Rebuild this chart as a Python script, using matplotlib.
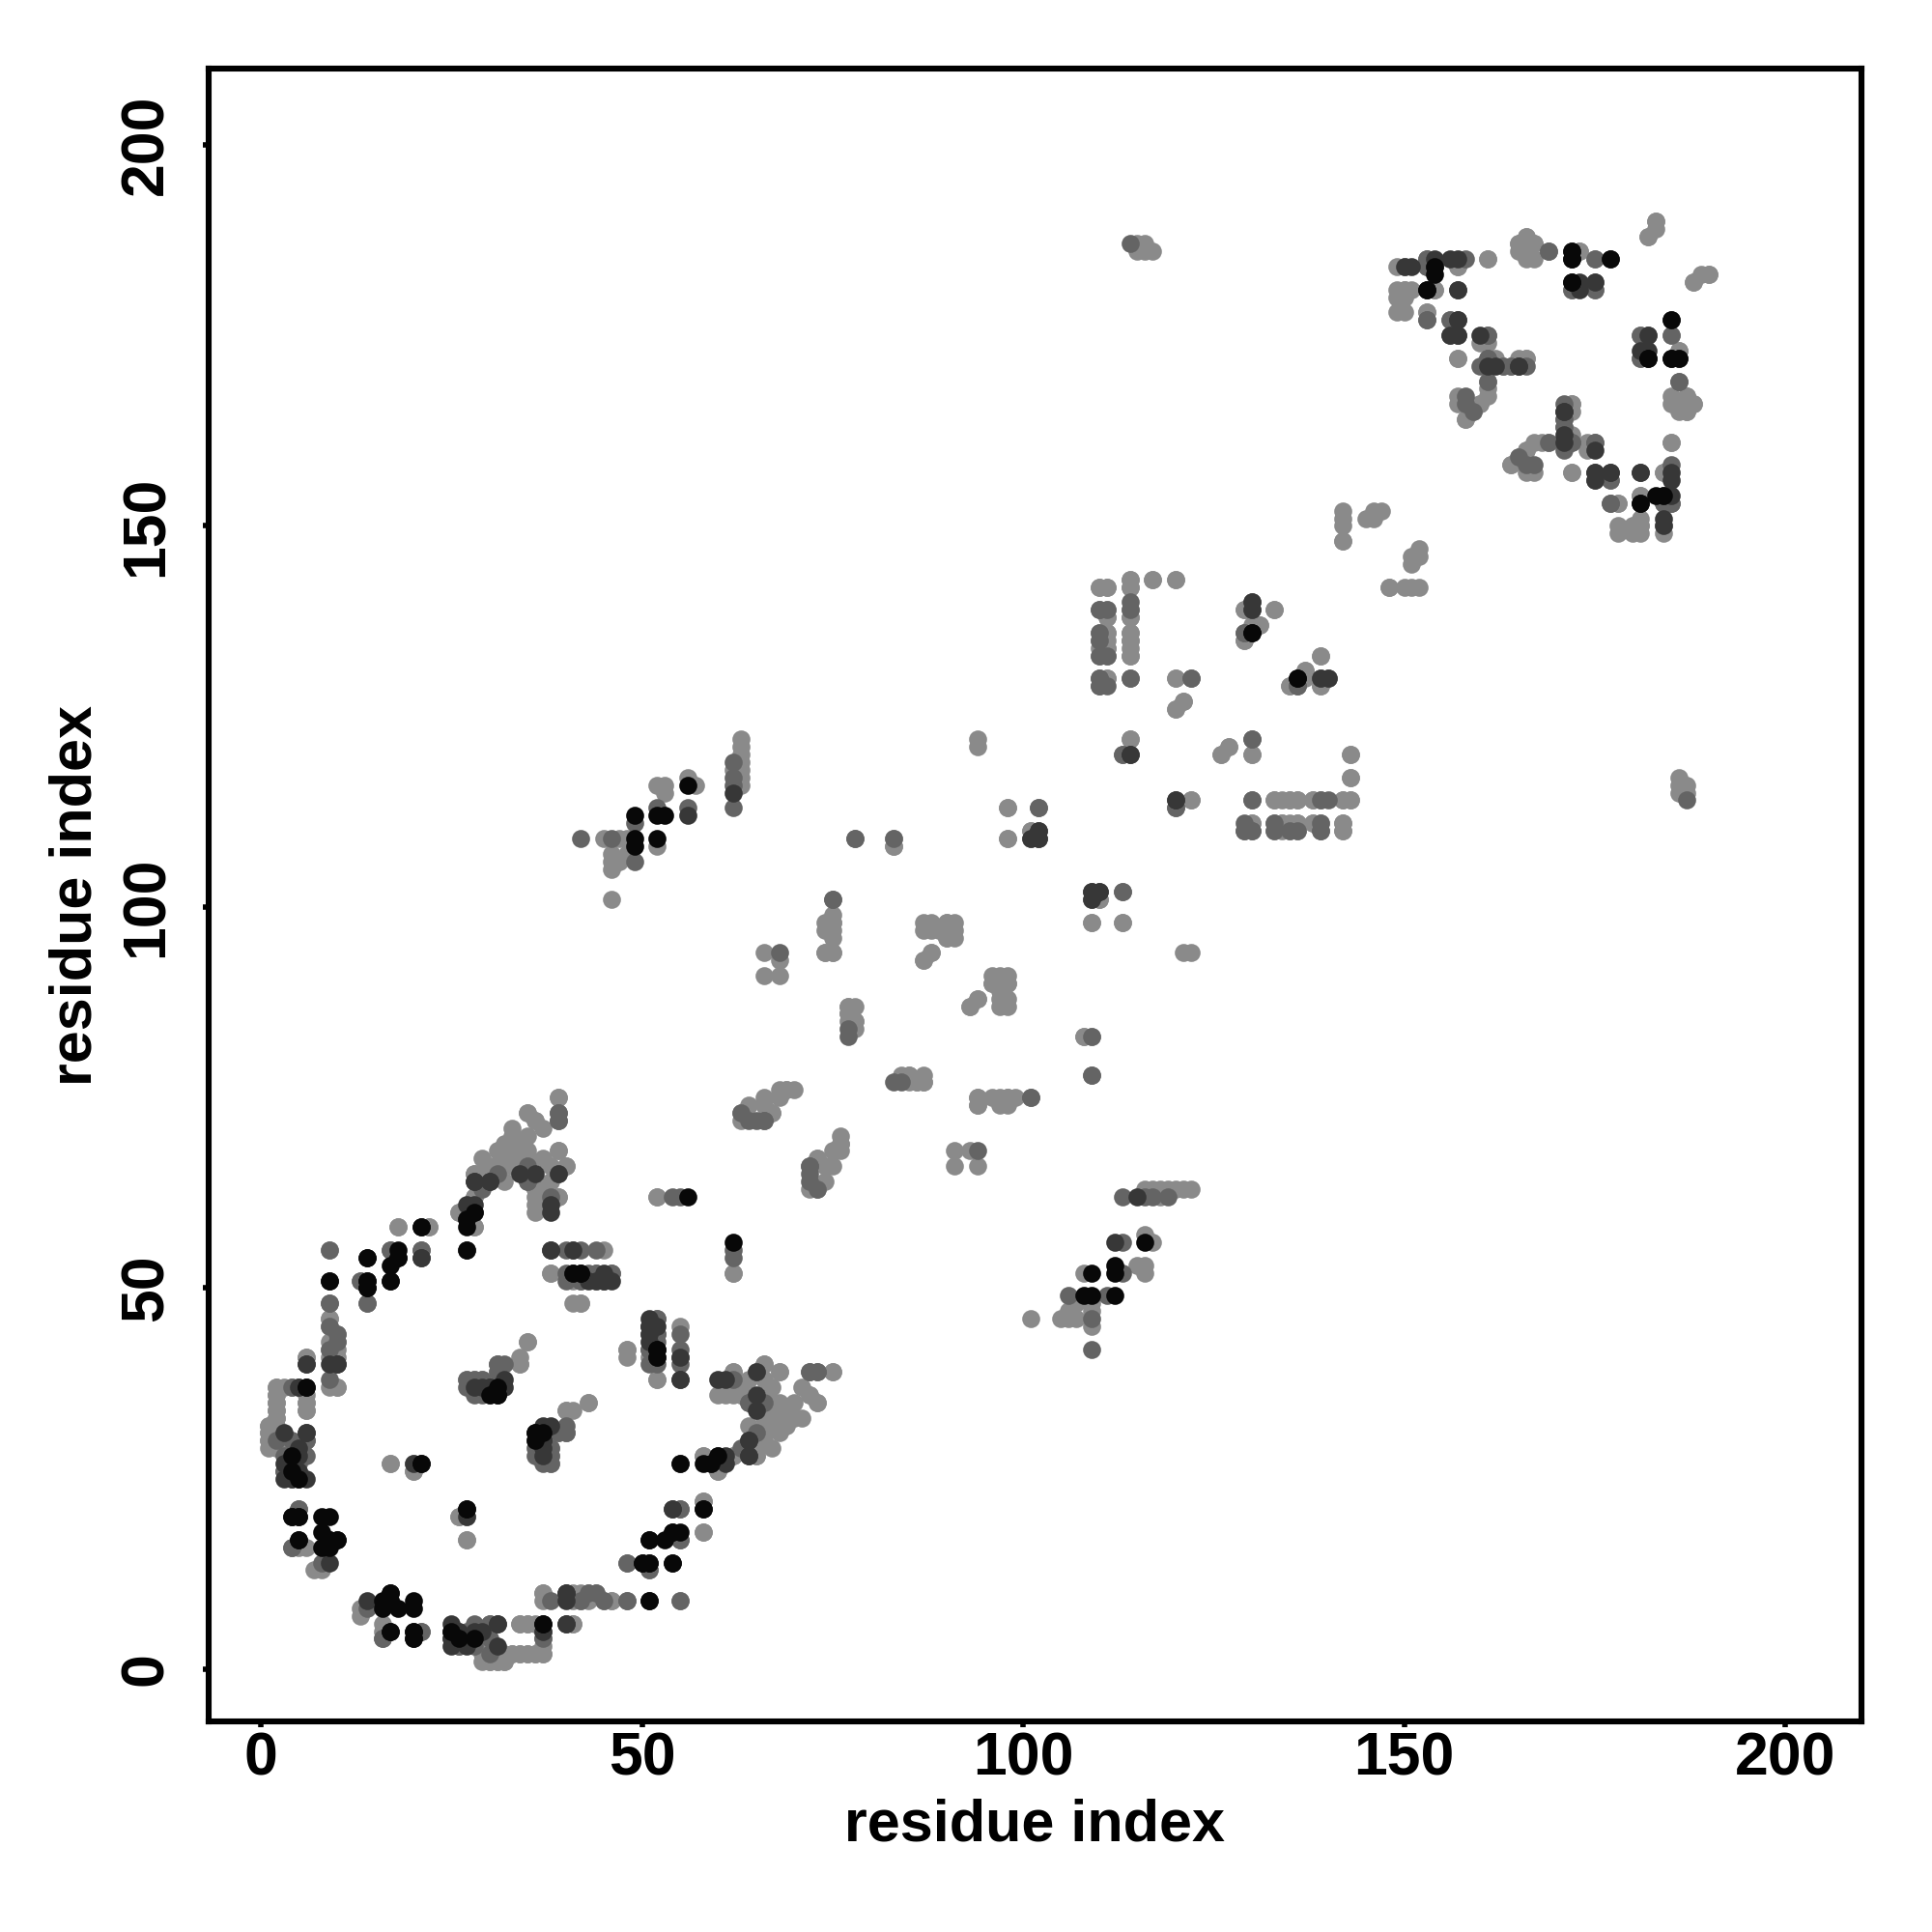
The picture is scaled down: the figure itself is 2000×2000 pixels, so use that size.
import matplotlib
matplotlib.use('Agg')
import matplotlib.pyplot as plt

# contact pairs (residue i, residue j), grouped by grey level
# the map is symmetric, each pair is drawn at (i, j) and (j, i)
black_contacts = [
    (6, 37), (5, 25), (4, 20), (9, 20), (5, 17), (9, 17), (10, 17), (9, 16), (5, 20),
    (21, 27), (27, 21), (31, 37), (30, 36), (31, 36), (36, 31), (16, 8), (17, 9),
    (20, 8), (17, 5), (20, 5), (20, 4), (18, 8), (17, 10), (28, 4), (37, 6), (26, 4),
    (27, 58), (21, 58), (18, 54), (14, 54), (18, 55), (14, 51), (14, 50), (17, 51),
    (9, 51), (41, 52), (42, 52), (52, 42), (60, 28), (59, 27), (55, 27), (58, 21),
    (51, 17), (54, 18), (53, 17), (50, 14), (51, 14), (54, 14), (51, 9), (56, 116),
    (53, 112), (52, 112), (49, 112), (49, 109), (49, 108), (52, 109), (56, 62),
    (130, 136), (136, 130), (154, 183), (172, 186), (172, 185), (177, 185), (172, 182),
    (153, 181), (182, 172), (185, 172), (181, 153), (184, 154),
]

dark_contacts = [
    (6, 40), (9, 40), (3, 31), (3, 27), (3, 25), (6, 31), (5, 28), (5, 26), (6, 25),
    (9, 14), (27, 20), (30, 37), (32, 37), (28, 37), (29, 37), (32, 38), (37, 31),
    (37, 30), (25, 5), (25, 4), (27, 4), (31, 6), (37, 5), (40, 10), (40, 6), (29, 5),
    (28, 64), (30, 64), (36, 65), (38, 60), (28, 60), (27, 59), (27, 61), (27, 55),
    (21, 54), (10, 40), (38, 55), (44, 51), (45, 51), (45, 52), (43, 51), (51, 46),
    (51, 45), (52, 41), (55, 41), (55, 38), (65, 39), (61, 38), (65, 34), (64, 30),
    (64, 28), (61, 28), (54, 21), (62, 115), (56, 112), (102, 110), (101, 109),
    (102, 109), (109, 102), (110, 102), (114, 120), (130, 139), (140, 130), (120, 114),
    (150, 184), (154, 184), (157, 185), (173, 182), (157, 181), (157, 177), (156, 175),
    (157, 175), (161, 171), (162, 171), (165, 171), (171, 165), (175, 160), (175, 157),
    (177, 157), (181, 157), (185, 156), (185, 177), (182, 175), (181, 173), (186, 172),
    (185, 154), (184, 151),
]

mid_contacts = [
    (4, 37), (5, 37), (2, 30), (3, 28), (3, 26), (6, 30), (5, 29), (5, 27), (4, 25),
    (5, 21), (4, 16), (29, 36), (27, 38), (28, 38), (32, 40), (36, 30), (38, 29),
    (36, 28), (37, 27), (39, 31), (14, 8), (21, 5), (16, 4), (26, 5), (26, 3), (28, 6),
    (38, 9), (30, 4), (30, 6), (39, 73), (39, 72), (31, 65), (35, 66), (35, 64),
    (39, 65), (38, 62), (17, 55), (21, 55), (14, 48), (9, 55), (9, 48), (9, 45),
    (10, 44), (40, 55), (41, 55), (44, 55), (40, 51), (43, 52), (46, 52), (40, 52),
    (44, 52), (42, 51), (62, 54), (52, 46), (52, 44), (51, 42), (55, 42), (40, 31),
    (72, 39), (73, 39), (64, 35), (63, 29), (55, 21), (55, 17), (48, 14), (51, 13),
    (43, 10), (42, 9), (48, 9), (62, 119), (62, 117), (62, 116), (62, 113), (52, 113),
    (56, 113), (49, 111), (42, 109), (46, 109), (49, 106), (78, 109), (75, 101),
    (68, 94), (77, 84), (63, 73), (64, 72), (65, 72), (66, 72), (72, 66), (55, 62),
    (113, 120), (102, 113), (109, 101), (113, 102), (109, 83), (109, 78), (83, 77),
    (101, 75), (110, 139), (114, 139), (110, 130), (110, 129), (114, 130), (122, 130),
    (130, 122), (130, 140), (129, 136), (139, 130), (136, 129), (120, 113), (130, 114),
    (140, 114), (129, 111), (133, 111), (139, 111), (129, 110), (130, 110), (133, 110),
    (135, 110), (136, 110), (139, 110), (153, 185), (158, 185), (153, 184), (169, 186),
    (175, 185), (175, 182), (153, 177), (161, 175), (161, 172), (158, 167), (161, 169),
    (158, 166), (171, 166), (171, 164), (171, 163), (165, 159), (171, 161), (172, 161),
    (171, 160), (175, 161), (175, 156), (177, 156), (181, 175), (181, 172), (186, 169),
    (177, 153), (184, 153), (185, 153), (187, 114),
]

light_contacts = [
    (6, 41), (9, 41), (9, 37), (10, 37), (2, 37), (3, 37), (6, 35), (6, 34), (2, 36),
    (2, 35), (2, 34), (2, 33), (1, 32), (1, 31), (1, 30), (1, 29), (2, 31), (3, 30),
    (3, 29), (4, 26), (8, 13), (6, 16), (17, 27), (20, 27), (20, 26), (26, 20), (27, 17),
    (29, 38), (31, 39), (31, 40), (34, 40), (37, 28), (38, 28), (38, 27), (40, 31),
    (40, 34), (41, 34), (13, 7), (16, 5), (29, 2), (30, 1), (31, 1), (32, 1), (32, 2),
    (33, 2), (34, 2), (35, 2), (36, 2), (37, 2), (37, 4), (34, 6), (35, 6), (36, 6),
    (37, 10), (39, 75), (35, 73), (36, 72), (37, 71), (33, 70), (31, 68), (32, 69),
    (30, 66), (29, 67), (28, 65), (34, 68), (35, 67), (36, 63), (34, 66), (37, 67),
    (38, 66), (39, 68), (40, 66), (39, 62), (36, 62), (36, 60), (37, 61), (38, 64),
    (28, 62), (26, 60), (28, 58), (18, 58), (22, 58), (13, 51), (9, 46), (10, 43),
    (9, 42), (10, 41), (9, 43), (38, 52), (41, 48), (35, 43), (42, 48), (62, 52),
    (51, 44), (55, 45), (48, 42), (51, 41), (52, 38), (43, 35), (66, 40), (62, 39),
    (68, 39), (75, 39), (72, 36), (73, 35), (62, 37), (61, 36), (63, 37), (63, 36),
    (66, 35), (66, 33), (67, 34), (68, 35), (69, 34), (67, 32), (68, 32), (69, 33),
    (65, 31), (66, 31), (64, 32), (70, 35), (71, 33), (65, 29), (65, 28), (62, 28),
    (58, 28), (60, 26), (58, 22), (58, 18), (42, 10), (44, 10), (45, 9), (46, 9),
    (55, 9), (41, 6), (63, 122), (63, 121), (63, 120), (63, 119), (63, 118), (63, 117),
    (63, 116), (62, 118), (56, 117), (57, 116), (53, 116), (52, 116), (53, 115),
    (52, 108), (45, 109), (47, 109), (48, 109), (46, 107), (47, 106), (48, 107),
    (46, 106), (46, 105), (46, 101), (75, 99), (75, 98), (74, 98), (74, 94), (75, 94),
    (66, 94), (68, 93), (66, 91), (68, 91), (77, 87), (78, 87), (77, 86), (78, 85),
    (64, 74), (66, 75), (68, 76), (69, 76), (70, 76), (67, 73), (73, 67), (75, 68),
    (76, 69), (72, 63), (73, 63), (74, 66), (52, 62), (94, 122), (94, 121), (98, 113),
    (98, 109), (101, 110), (83, 109), (83, 108), (110, 101), (109, 98), (113, 98),
    (87, 98), (88, 98), (89, 97), (90, 98), (91, 98), (90, 96), (87, 93), (88, 94),
    (96, 91), (97, 91), (98, 90), (97, 90), (97, 88), (97, 87), (93, 87), (94, 88),
    (96, 90), (108, 83), (84, 78), (85, 77), (86, 77), (87, 77), (85, 78), (94, 75),
    (94, 74), (96, 75), (97, 75), (98, 75), (97, 74), (110, 142), (111, 142),
    (114, 142), (114, 143), (117, 143), (120, 143), (111, 139), (111, 138), (114, 138),
    (110, 136), (110, 135), (110, 134), (110, 133), (111, 136), (111, 134), (111, 133),
    (114, 136), (114, 135), (114, 134), (114, 133), (111, 130), (120, 130), (121, 127),
    (120, 126), (114, 122), (126, 120), (127, 121), (130, 120), (129, 139), (133, 139),
    (129, 135), (131, 137), (130, 137), (139, 133), (137, 131), (135, 129), (139, 129),
    (142, 148), (148, 142), (143, 120), (143, 117), (122, 114), (133, 114), (135, 114),
    (136, 114), (138, 114), (139, 114), (142, 114), (143, 114), (130, 111), (134, 111),
    (135, 111), (136, 111), (138, 111), (142, 111), (142, 110), (149, 184), (157, 184),
    (161, 185), (166, 188), (165, 187), (167, 187), (166, 185), (166, 186), (173, 186),
    (172, 181), (175, 181), (183, 190), (182, 188), (188, 182), (189, 183), (190, 183),
    (149, 181), (150, 181), (154, 181), (149, 180), (149, 178), (153, 178), (156, 177),
    (157, 172), (161, 174), (162, 172), (163, 171), (164, 171), (165, 172), (166, 172),
    (157, 167), (159, 165), (160, 166), (161, 167), (158, 164), (172, 166), (168, 161),
    (169, 161), (166, 160), (164, 158), (166, 158), (166, 157), (174, 160), (172, 157),
    (184, 157), (185, 161), (185, 175), (186, 173), (185, 167), (186, 166), (187, 167),
    (188, 166), (186, 165), (187, 165), (178, 153), (181, 154), (178, 150), (180, 150),
    (181, 151), (181, 150), (184, 150), (145, 151), (146, 152), (151, 146), (152, 147),
    (142, 152), (142, 150), (151, 142), (115, 186), (116, 186), (117, 186), (187, 115),
    (187, 116),
]

groups = [light_contacts, mid_contacts, dark_contacts, black_contacts]
grey_levels = ['#8a8a8a', '#646464', '#373737', '#080808']

ticks = [0, 50, 100, 150, 200]

plt.rcParams['font.family'] = ['Liberation Sans', 'DejaVu Sans']
plt.rcParams['font.weight'] = 'bold'

fig = plt.figure(figsize=(10, 10), dpi=200)
ax = fig.add_axes([0.108, 0.109, 0.8555, 0.8555])

for pairs, col in zip(groups, grey_levels):
    ii = [p[0] for p in pairs]
    jj = [p[1] for p in pairs]
    ax.scatter(ii + jj, jj + ii, s=45, c=col, linewidths=0, zorder=2)

ax.set_xlim(-6.84, 210)
ax.set_ylim(-6.84, 210)
ax.set_xticks(ticks)
ax.set_yticks(ticks)

for sp in ax.spines.values():
    sp.set_linewidth(2.2)
ax.tick_params(direction='out', length=2.0, width=2.0, labelsize=22.5)
ax.tick_params(axis='x', pad=1.5)
ax.tick_params(axis='y', pad=10.5, labelrotation=90)
for lab in ax.get_yticklabels():
    lab.set_va('center')

ax.set_xlabel('residue index', fontsize=22, fontweight='bold')
ax.set_ylabel('residue index', fontsize=22, fontweight='bold')
ax.xaxis.set_label_coords(0.5, -0.063)
ax.xaxis.label.set_va('center')
ax.yaxis.set_label_coords(-0.080, 0.5)
ax.yaxis.label.set_va('center')

fig.savefig('out.png', dpi=200, facecolor='white')
